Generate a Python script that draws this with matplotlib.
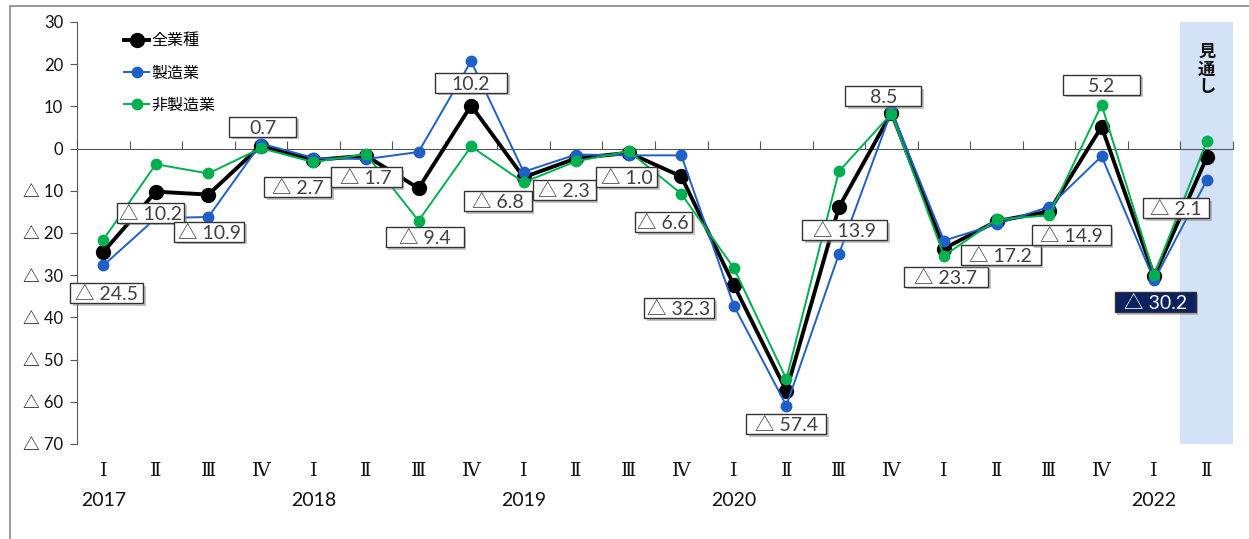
import matplotlib
matplotlib.use("Agg")
import matplotlib.pyplot as plt
import matplotlib.patches as mpatches
import matplotlib.patheffects as pe
import matplotlib.transforms as mtransforms
from matplotlib.lines import Line2D

# quarterly DI, 2017 Q1 .. 2022 Q2 (last one is the outlook)
quarters = ["Ⅰ", "Ⅱ", "Ⅲ", "Ⅳ"] * 5 + ["Ⅰ", "Ⅱ"]
years = {0: "2017", 4: "2018", 8: "2019", 12: "2020", 20: "2022"}

all_ind = [-24.5, -10.2, -10.9, 0.7, -2.7, -1.7, -9.4, 10.2, -6.8, -2.3, -1.0,
           -6.6, -32.3, -57.4, -13.9, 8.5, -23.7, -17.2, -14.9, 5.2, -30.2, -2.1]
manuf = [-27.7, -16.5, -16.2, 1.2, -2.2, -2.5, -0.8, 20.7, -5.5, -1.4, -1.6,
         -1.6, -37.2, -60.9, -25.0, 8.9, -21.8, -17.9, -13.8, -1.8, -31.2, -7.5]
nonmanuf = [-21.6, -3.7, -5.9, 0.1, -3.2, -1.3, -17.1, 0.5, -8.0, -3.0, -0.6,
            -10.7, -28.3, -54.6, -5.4, 8.3, -25.4, -16.8, -15.8, 10.4, -29.9, 1.7]

# value box centre relative to its point, and box width (pixels)
lbl_off = [(3, -41), (-5, -21), (1, -37), (2, 19), (-16, -27), (0, -21), (6, -49),
           (0, 23), (-26, -24), (-12, -32), (-2, -24), (-18, -46), (-55, -23),
           (0, -33), (6, -23), (-8, 17), (2, -28), (4, -34), (22, -24), (0, 42),
           (1, -26), (-31, -51)]
box_w = [73, 67, 70, 67, 67, 71, 78, 72, 68, 63, 61, 57, 70, 80, 85, 76, 84, 80,
         79, 77, 81, 66]
BOX_H = 20

BLACK = "#000000"
BLUE = "#1f5fc6"
GREEN = "#00b050"
NAVY = "#0b2160"
TXT = "#404040"
NUMFONT = ["Lato", "Noto Sans CJK JP", "DejaVu Sans"]
JPFONT = ["Noto Sans CJK JP", "DejaVu Sans"]


def fmt(v):
    return "△ %.1f" % -v if v < 0 else "%.1f" % v


def tick_fmt(v):
    return "△ %d" % -v if v < 0 else "%d" % v


fig = plt.figure(figsize=(12.49, 5.39), dpi=100)
W, H = 1249, 539
ax = fig.add_axes([77 / W, (H - 444) / H, (1233 - 77) / W, (444 - 22) / H])

x = list(range(len(all_ind)))
ax.set_xlim(-0.5, len(x) - 0.5)
ax.set_ylim(-70, 30)

# outlook column
ax.axvspan(len(x) - 1.5, len(x) - 0.5, color="#d3e2f7", zorder=0, lw=0)
ax.text(len(x) - 1, 25, "見\n通\nし", ha="center", va="top", fontsize=12.5,
        fontweight="bold", family=JPFONT, linespacing=0.95, color="#111111")

ax.plot(x, all_ind, color=BLACK, lw=2.8, marker="o", ms=10, zorder=3)
ax.plot(x, manuf, color=BLUE, lw=1.4, marker="o", ms=7.5, zorder=4)
ax.plot(x, nonmanuf, color=GREEN, lw=1.4, marker="o", ms=7.5, zorder=5)

# axes styling: x axis runs through zero
for s in ["top", "right"]:
    ax.spines[s].set_visible(False)
ax.spines["bottom"].set_position(("data", 0))
ax.spines["bottom"].set_color("#555555")
ax.spines["left"].set_color("#555555")
ax.set_xticks([i - 0.5 for i in range(len(x) + 1)])
ax.tick_params(axis="x", direction="in", length=6, color="#555555", labelbottom=False)
yt = list(range(-70, 31, 10))
ax.set_yticks(yt)
ax.set_yticklabels([tick_fmt(v) for v in yt], family=NUMFONT, fontsize=12, color="#111111")
ax.tick_params(axis="y", direction="out", length=5, color="#555555", pad=5)

tr = ax.get_xaxis_transform()
for i, q in enumerate(quarters):
    ax.text(i, -0.065, q, transform=tr, ha="center", va="center", fontsize=14,
            family=["DejaVu Serif", "Noto Sans CJK JP"], color="#111111")
for i, y in years.items():
    ax.text(i, -0.135, y, transform=tr, ha="center", va="center", fontsize=14,
            family=NUMFONT, color="#111111")

# value boxes for the all-industry line
shadow = [pe.withSimplePatchShadow(offset=(2, -2), shadow_rgbFace="#888888", alpha=0.5)]
px_x = (1233 - 77) / len(x)          # pixels per category
px_y = (444 - 22) / 100.0            # pixels per DI point
for i, v in enumerate(all_ind):
    last = i == len(x) - 2
    dx, dy = lbl_off[i]
    off = mtransforms.offset_copy(ax.transData, fig=fig, x=dx, y=dy, units="dots")
    w = box_w[i] / px_x
    h = BOX_H / px_y
    rect = mpatches.Rectangle((i - w / 2, v - h / 2), w, h, transform=off,
                              fc=NAVY if last else "white", ec="#333333", lw=1.0,
                              zorder=6, clip_on=False)
    rect.set_path_effects(shadow)
    ax.add_patch(rect)
    ax.text(i, v, fmt(v), transform=off, ha="center", va="center_baseline",
            fontsize=14, family=NUMFONT, color="white" if last else TXT, zorder=7)

handles = [Line2D([], [], color=BLACK, lw=2.8, marker="o", ms=10),
           Line2D([], [], color=BLUE, lw=1.4, marker="o", ms=7.5),
           Line2D([], [], color=GREEN, lw=1.4, marker="o", ms=7.5)]
leg = ax.legend(handles, ["全業種", "製造業", "非製造業"], loc="upper left",
                bbox_to_anchor=(0.028, 1.01), frameon=False, handlelength=1.6,
                handletextpad=0.1, labelspacing=0.95, prop={"family": JPFONT, "size": 11.5})

# outer frame
fig.patches.append(mpatches.Rectangle((10 / W, -0.1), 2, (H - 6) / H + 0.1, fill=False,
                                      ec="#888888", lw=1.2, transform=fig.transFigure))

fig.savefig("out.png", dpi=100)
